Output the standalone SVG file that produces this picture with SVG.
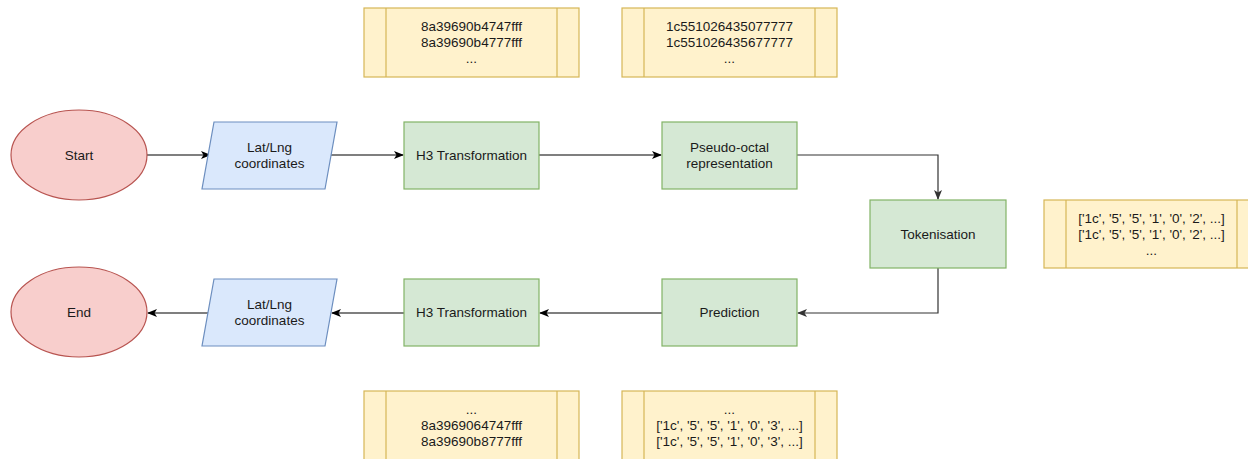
<svg xmlns="http://www.w3.org/2000/svg" width="1248" height="459" viewBox="0 0 1248 459">
<style>
text{font-family:"Liberation Sans",Arial,sans-serif;font-size:13.5px;fill:#1a1a1a;text-anchor:middle;dominant-baseline:central}
.red{fill:#f8cecc;stroke:#b85450;stroke-width:1.2}
.blue{fill:#dae8fc;stroke:#6c8ebf;stroke-width:1.2}
.green{fill:#d5e8d4;stroke:#82b366;stroke-width:1.2}
.yel{fill:#fff2cc;stroke:#d6b656;stroke-width:1.2}
.edge{fill:none;stroke:#000;stroke-width:1.2}
.edge2{fill:none;stroke:#333;stroke-width:1.2}
</style>
<defs>
<marker id="arr" viewBox="0 0 10 10" refX="9" refY="5" markerWidth="10" markerHeight="10" markerUnits="userSpaceOnUse" orient="auto">
<path d="M0,1 L10,5 L0,9 L2.5,5 Z" fill="#000"/>
</marker>
<marker id="arr2" viewBox="0 0 10 10" refX="9" refY="5" markerWidth="10" markerHeight="10" markerUnits="userSpaceOnUse" orient="auto">
<path d="M0,1 L10,5 L0,9 L2.5,5 Z" fill="#333"/>
</marker>
</defs>
<g id="connectors">
<line class="edge" x1="147" y1="155" x2="210" y2="155" marker-end="url(#arr)"/>
<line class="edge" x1="331" y1="155" x2="403" y2="155" marker-end="url(#arr)"/>
<line class="edge" x1="539" y1="155" x2="661" y2="155" marker-end="url(#arr)"/>
<path class="edge2" d="M797,155 H938 V199" marker-end="url(#arr2)"/>
<path class="edge2" d="M938,268 V313 H798" marker-end="url(#arr2)"/>
<line class="edge" x1="662" y1="313" x2="540" y2="313" marker-end="url(#arr)"/>
<line class="edge" x1="404" y1="313" x2="332" y2="313" marker-end="url(#arr)"/>
<line class="edge" x1="208" y1="313" x2="148" y2="313" marker-end="url(#arr)"/>
</g>
<g id="start"><ellipse class="red" cx="79" cy="155" rx="68" ry="45"/><text x="79" y="155">Start</text></g>
<g id="latlng1"><polygon class="blue" points="214,122 337,122 325,189 202,189"/><text x="269.5" y="147">Lat/Lng</text><text x="269.5" y="163">coordinates</text></g>
<g id="h3a"><rect class="green" x="404" y="122" width="135" height="67"/><text x="471.5" y="155">H3 Transformation</text></g>
<g id="pseudo"><rect class="green" x="662" y="122" width="135" height="67"/><text x="729.5" y="147">Pseudo-octal</text><text x="729.5" y="163">representation</text></g>
<g id="token"><rect class="green" x="870" y="200" width="136" height="68"/><text x="938" y="234">Tokenisation</text></g>
<g id="pred"><rect class="green" x="662" y="279" width="135" height="67"/><text x="729.5" y="312">Prediction</text></g>
<g id="h3b"><rect class="green" x="404" y="279" width="135" height="67"/><text x="471.5" y="312">H3 Transformation</text></g>
<g id="latlng2"><polygon class="blue" points="214,279 337,279 325,346 202,346"/><text x="269.5" y="304">Lat/Lng</text><text x="269.5" y="320">coordinates</text></g>
<g id="end"><ellipse class="red" cx="79" cy="312" rx="68" ry="45"/><text x="79" y="312">End</text></g>
<g id="data1"><rect class="yel" x="364" y="8" width="215" height="69"/><line class="yel" x1="386" y1="8" x2="386" y2="77"/><line class="yel" x1="557" y1="8" x2="557" y2="77"/>
<text x="471.5" y="26">8a39690b4747fff</text><text x="471.5" y="42">8a39690b4777fff</text><text x="471.5" y="58">...</text></g>
<g id="data2"><rect class="yel" x="622" y="8" width="215" height="69"/><line class="yel" x1="644" y1="8" x2="644" y2="77"/><line class="yel" x1="815" y1="8" x2="815" y2="77"/>
<text x="729.5" y="26">1c551026435077777</text><text x="729.5" y="42">1c551026435677777</text><text x="729.5" y="58">...</text></g>
<g id="data3"><rect class="yel" x="1044" y="200" width="215" height="68"/><line class="yel" x1="1066" y1="200" x2="1066" y2="268"/><line class="yel" x1="1237" y1="200" x2="1237" y2="268"/>
<text x="1151.5" y="218">['1c', '5', '5', '1', '0', '2', ...]</text><text x="1151.5" y="234">['1c', '5', '5', '1', '0', '2', ...]</text><text x="1151.5" y="250">...</text></g>
<g id="data4"><rect class="yel" x="364" y="391" width="215" height="69"/><line class="yel" x1="386" y1="391" x2="386" y2="460"/><line class="yel" x1="557" y1="391" x2="557" y2="460"/>
<text x="471.5" y="409">...</text><text x="471.5" y="425">8a3969064747fff</text><text x="471.5" y="441">8a39690b8777fff</text></g>
<g id="data5"><rect class="yel" x="622" y="391" width="215" height="69"/><line class="yel" x1="644" y1="391" x2="644" y2="460"/><line class="yel" x1="815" y1="391" x2="815" y2="460"/>
<text x="729.5" y="409">...</text><text x="729.5" y="425">['1c', '5', '5', '1', '0', '3', ...]</text><text x="729.5" y="441">['1c', '5', '5', '1', '0', '3', ...]</text></g>
</svg>
